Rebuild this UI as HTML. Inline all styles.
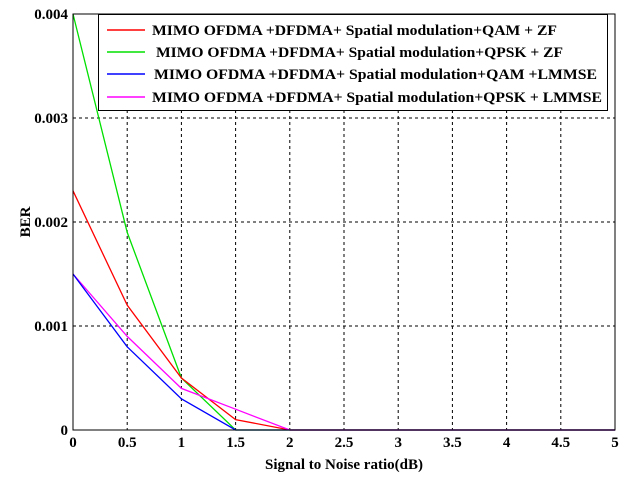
<!DOCTYPE html>
<html><head><meta charset="utf-8"><style>
body{margin:0;background:#fff;width:637px;height:481px;overflow:hidden}
svg{display:block;font-family:"Liberation Serif",serif}
</style></head><body>
<svg id="chart" width="637" height="481" viewBox="0 0 637 481">
<rect width="637" height="481" fill="#fff"/>
<g id="grid"></g>
<g id="axes"></g>
<g id="series"></g>
<rect x="73" y="14" width="542" height="416" fill="none" stroke="#000" stroke-width="1"/>
<text x="344" y="469" font-size="15" font-weight="bold" text-anchor="middle">Signal to Noise ratio(dB)</text>
<text x="0" y="0" font-size="15" font-weight="bold" text-anchor="middle" transform="translate(30,222) rotate(-90)">BER</text>
<g id="legend">
<rect x="98.5" y="14.5" width="509" height="96" fill="#fff" stroke="#000"/>
</g>
</svg>
<script>
const xTicks=[0,0.5,1,1.5,2,2.5,3,3.5,4,4.5,5];
const xTickLabels=["0","0.5","1","1.5","2","2.5","3","3.5","4","4.5","5"];
const yTicks=[0,0.001,0.002,0.003,0.004];
const yTickLabels=["0","0.001","0.002","0.003","0.004"];
const snr=[0,0.5,1,1.5,2,2.5,3,3.5,4,4.5,5];
const berQamZf=[0.0023,0.0012,0.0005,0.0001,0,0,0,0,0,0,0];
const berQpskZf=[0.004,0.0019,0.0005,0,0,0,0,0,0,0,0];
const berQamLmmse=[0.0015,0.0008,0.0003,0,0,0,0,0,0,0,0];
const berQpskLmmse=[0.0015,0.0009,0.0004,0.0002,0,0,0,0,0,0,0];
const seriesNames=["MIMO OFDMA +DFDMA+ Spatial modulation+QAM + ZF","MIMO OFDMA +DFDMA+ Spatial modulation+QPSK + ZF","MIMO OFDMA  +DFDMA+ Spatial modulation+QAM +LMMSE","MIMO OFDMA  +DFDMA+ Spatial modulation+QPSK + LMMSE"];
const NS="http://www.w3.org/2000/svg";
const X0=73,X1=615,Y0=430,Y1=14;
const xs=v=>X0+(v-0)/5*(X1-X0);
const ys=v=>Y0-(v/0.004)*(Y0-Y1);
function mk(t,a,p){const e=document.createElementNS(NS,t);for(const k in a)e.setAttribute(k,a[k]);p.appendChild(e);return e;}
const grid=document.getElementById('grid'),axes=document.getElementById('axes'),ser=document.getElementById('series'),leg=document.getElementById('legend');
xTicks.forEach((v,i)=>{
  const x=xs(v);
  if(i>0&&i<xTicks.length-1){const l=mk('line',{x1:x,x2:x,y1:Y1,y2:Y0,stroke:'#000','stroke-dasharray':'3,3'},grid);
  
  }
  const t=mk('text',{x:x,y:447,'font-size':15,'font-weight':'bold','text-anchor':'middle'},axes);t.textContent=xTickLabels[i];
  
  
});
yTicks.forEach((v,i)=>{
  const y=ys(v);
  if(i>0&&i<yTicks.length-1){const l=mk('line',{x1:X0,x2:X1,y1:y,y2:y,stroke:'#000','stroke-dasharray':'3,3'},grid);
  
  }
  const t=mk('text',{x:68,y:y+5,'font-size':15,'font-weight':'bold','text-anchor':'end'},axes);t.textContent=yTickLabels[i];
  
  
});
const all=[[berQamZf,'#ff0000','qam-zf'],[berQpskZf,'#00e000','qpsk-zf'],[berQamLmmse,'#0000ff','qam-lmmse'],[berQpskLmmse,'#ff00ff','qpsk-lmmse']];
const draw=[1,0,3,2];
draw.forEach(i=>{const [d,c,n]=all[i];
  const p=mk('polyline',{points:d.map((v,j)=>xs(snr[j])+','+ys(v)).join(' '),fill:'none',stroke:c,'stroke-width':1.3},ser);
  
  
});
const ly=[30,52,74,97];
const lx=[152,156,154,152];
const lw=[405,407,443,450];
all.forEach(([d,c,n],i)=>{
  const l=mk('line',{x1:107,x2:145,y1:ly[i],y2:ly[i],stroke:c,'stroke-width':1.5},leg);
  
  
  const t=mk('text',{x:lx[i],y:ly[i]+5,'font-size':15,'font-weight':'bold','xml:space':'preserve',textLength:lw[i],lengthAdjust:'spacingAndGlyphs'},leg);t.textContent=seriesNames[i];
  
  
});
</script>
</body></html>
